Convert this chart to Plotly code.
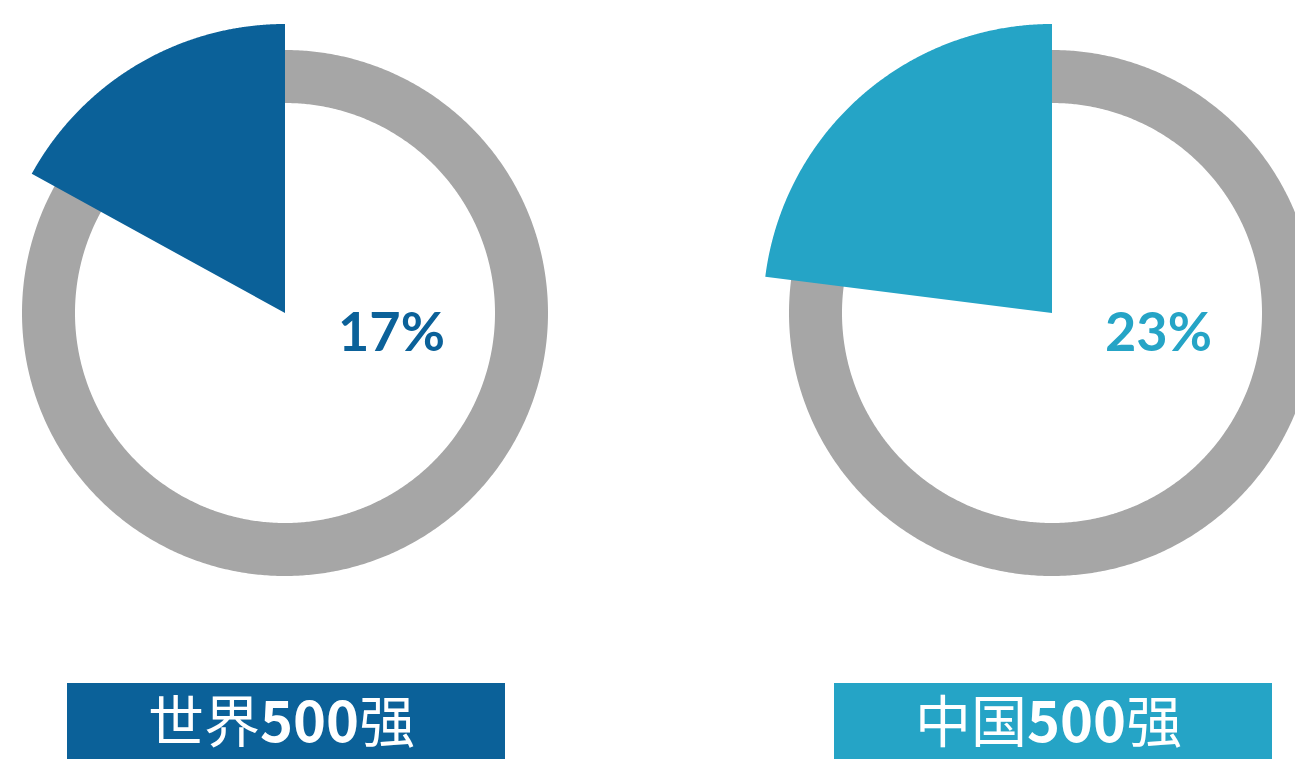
import numpy as np
import plotly.graph_objects as go

# ---- data ----
categories = ["世界500强", "中国500强"]
shares = [17, 23]                      # percent
value_labels = ["17%", "23%"]
label_texts = ["世界<b>500</b>强", "中国<b>500</b>强"]
colors = ["#0B6199", "#25A4C6"]
ring_color = "#A6A6A6"

# ---- layout constants (screen-pixel coordinates) ----
W, H = 1303, 759
OFF = 8                                # page body margin
centers_x = [285, 1052]
center_y = 313
R_OUT, R_IN = 263, 210
R_WEDGE = 289

fig = go.Figure()

for i, cat in enumerate(categories):
    cx = centers_x[i]
    # gray ring drawn as a thick circular line (slightly overlapping to close)
    t = np.linspace(0, 2 * np.pi + 0.08, 800)
    rm = (R_OUT + R_IN) / 2
    fig.add_trace(go.Scatter(
        x=cx + rm * np.cos(t), y=center_y + rm * np.sin(t),
        mode="lines", line=dict(color=ring_color, width=R_OUT - R_IN, simplify=False),
        hoverinfo="skip", showlegend=False))
    # wedge: from top, counterclockwise by share
    ang = np.radians(np.linspace(0, shares[i] * 3.6, 300))
    wx = np.concatenate([[cx], cx - R_WEDGE * np.sin(ang), [cx]])
    wy = np.concatenate([[center_y], center_y - R_WEDGE * np.cos(ang), [center_y]])
    fig.add_trace(go.Scatter(
        x=wx, y=wy, mode="lines", fill="toself", fillcolor=colors[i],
        line=dict(width=0, color=colors[i], simplify=False), name=cat,
        hovertemplate=f"{cat}: {shares[i]}%<extra></extra>", showlegend=False))
    # percentage label
    fig.add_annotation(x=cx + 106, y=center_y + 17, xref="x", yref="y",
                       text=f"<b>{value_labels[i]}</b>", showarrow=False,
                       font=dict(family="Lato, Open Sans, sans-serif", size=54, color=colors[i]))
    # label box
    fig.add_shape(type="rect", xref="x", yref="y",
                  x0=cx - 218, x1=cx + 220, y0=683, y1=H + 10,
                  fillcolor=colors[i], line=dict(width=0), layer="below")
    fig.add_annotation(x=cx - 4, y=717, xref="x", yref="y",
                       text=label_texts[i], showarrow=False,
                       font=dict(family="Noto Sans CJK SC, sans-serif", size=56, color="white"))

fig.update_layout(
    width=W - OFF, height=H - OFF,
    margin=dict(l=0, r=0, t=0, b=0),
    paper_bgcolor="white", plot_bgcolor="white",
    xaxis=dict(range=[OFF, W], visible=False, fixedrange=True),
    yaxis=dict(range=[H, OFF], visible=False, fixedrange=True),
    showlegend=False,
)

fig.write_html("out.html")
